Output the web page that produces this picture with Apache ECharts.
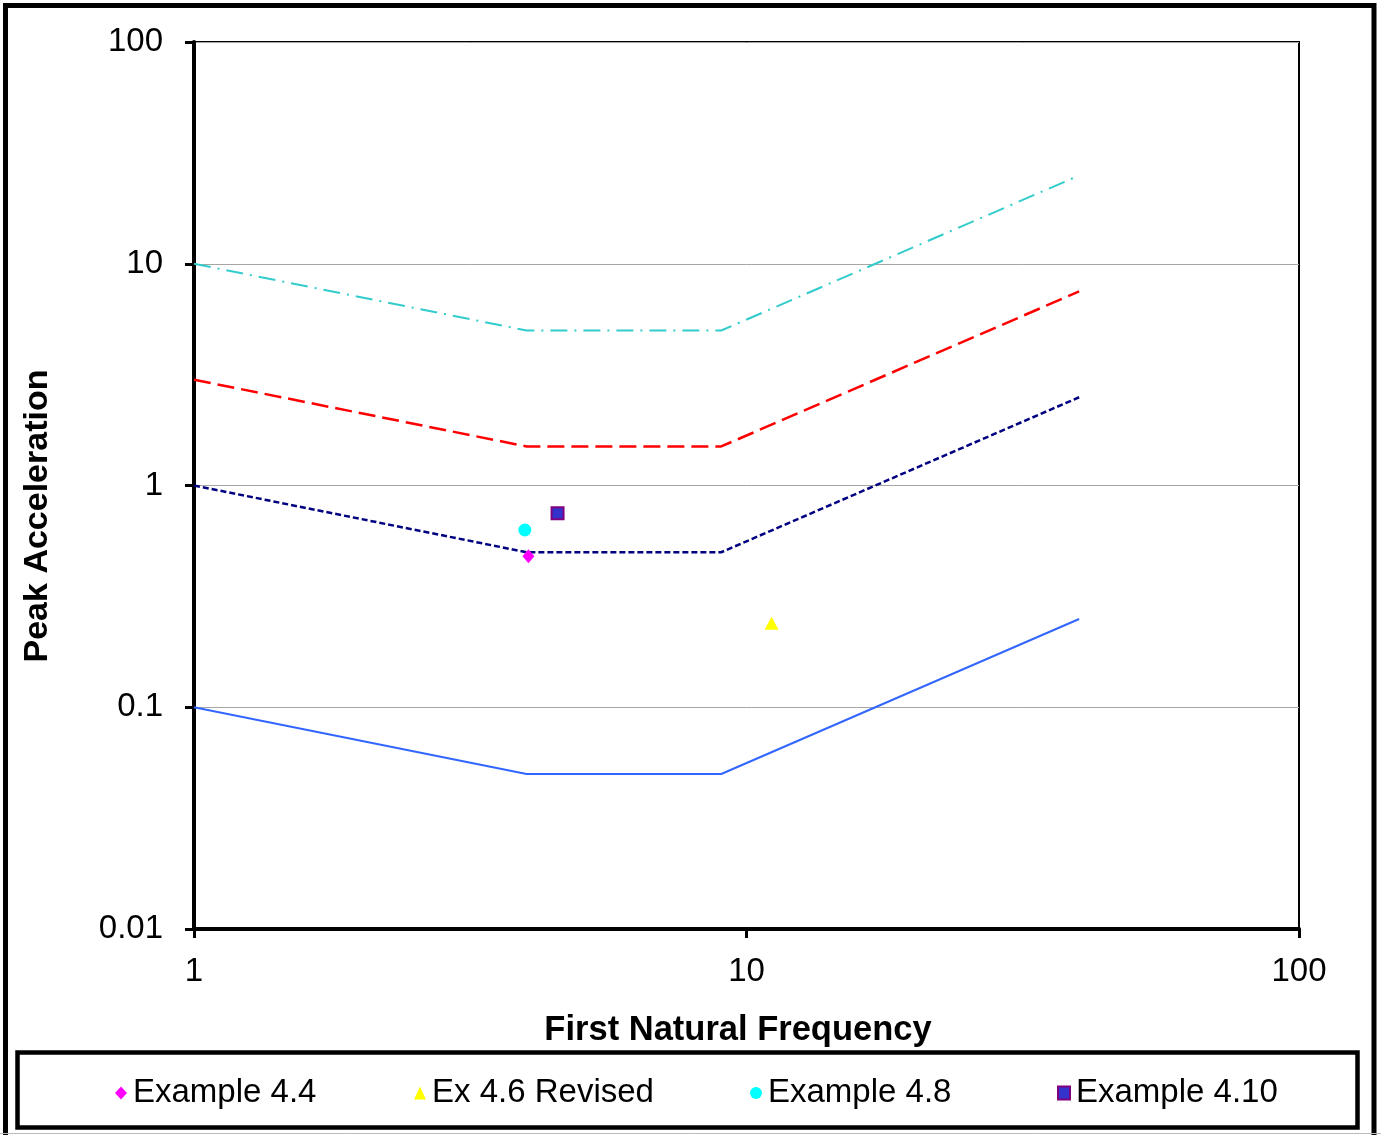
<!DOCTYPE html>
<html>
<head>
<meta charset="utf-8">
<style>
  html, body { margin: 0; padding: 0; background: #fff; }
  #chart { width: 1381px; height: 1135px; }
</style>
<script src="https://cdn.jsdelivr.net/npm/echarts@6/dist/echarts.min.js"></script>
</head>
<body>
<div id="chart"></div>
<script>
// Peak acceleration vs first natural frequency (log-log), limit curves + example points.
var FONT = "Liberation Sans, Arial, sans-serif";

var limitFreq = [1, 4, 9, 40];
var limitCyan = [10, 5, 5, 25];
var limitRed = [3, 1.5, 1.5, 7.5];
var limitNavy = [1, 0.5, 0.5, 2.5];
var limitBlue = [0.1, 0.05, 0.05, 0.25];

var pointNames = ["Example 4.4", "Ex 4.6 Revised", "Example 4.8", "Example 4.10"];
var pointFreq = [4.03, 11.1, 3.97, 4.55];
var pointAccel = [0.48, 0.239, 0.63, 0.75];

var yTicks = [0.01, 0.1, 1, 10, 100];
var xTicks = [1, 10, 100];

function pairs(xs, ys) {
  return xs.map(function (x, i) { return [x, ys[i]]; });
}

function limitLine(vals, color, width, type) {
  return {
    type: "line",
    data: pairs(limitFreq, vals),
    symbol: "none",
    silent: true,
    lineStyle: { color: color, width: width, type: type },
    z: 2
  };
}

var markerStyles = [
  { symbol: "diamond", size: [12, 14], color: "#ff00ff" },
  { symbol: "triangle", size: [14, 13], color: "#ffff00" },
  { symbol: "circle", size: 13, color: "#00ffff" },
  { symbol: "rect", size: 12, color: "#3333cc", border: "#800080" }
];

var pointSeries = pointNames.map(function (name, i) {
  var m = markerStyles[i];
  return {
    name: name,
    type: "scatter",
    data: [[pointFreq[i], pointAccel[i]]],
    symbol: m.symbol,
    symbolSize: m.size,
    itemStyle: {
      color: m.color,
      borderColor: m.border || m.color,
      borderWidth: m.border ? 2 : 0,
      opacity: 1
    },
    z: 5
  };
});

var legendLefts = [110, 409, 745, 1052];
var legends = pointNames.map(function (name, i) {
  return {
    data: [name],
    left: legendLefts[i],
    top: 1070,
    itemWidth: 12,
    itemHeight: 13,
    itemGap: 0,
    selectedMode: false,
    textStyle: { fontFamily: FONT, fontSize: 33, color: "#000", padding: [0, 0, 0, 1], lineHeight: 36 }
  };
});

var chart = echarts.init(document.getElementById("chart"), null, { renderer: "canvas" });
chart.setOption({
  backgroundColor: "#fff",
  animation: false,
  textStyle: { fontFamily: FONT },
  grid: {
    left: 194, right: 82, top: 42, bottom: 206,
    show: true, borderColor: "#000", borderWidth: 2, backgroundColor: "transparent"
  },
  xAxis: {
    type: "log",
    logBase: 10,
    min: xTicks[0],
    max: xTicks[xTicks.length - 1],
    axisLine: { show: true, onZero: false, lineStyle: { color: "#000", width: 4 } },
    axisTick: { show: true, length: 9, lineStyle: { color: "#000", width: 3 } },
    minorTick: { show: false },
    splitLine: { show: false },
    axisLabel: { color: "#000", fontSize: 33, fontFamily: FONT, margin: 26 }
  },
  yAxis: {
    type: "log",
    logBase: 10,
    min: yTicks[0],
    max: yTicks[yTicks.length - 1],
    axisLine: { show: true, onZero: false, lineStyle: { color: "#000", width: 4 } },
    axisTick: { show: true, length: 9, lineStyle: { color: "#000", width: 3 } },
    splitLine: { show: true, lineStyle: { color: "#a6a6a6", width: 1 } },
    axisLabel: {
      color: "#000", fontSize: 33, fontFamily: FONT, margin: 31,
      formatter: function (v) { return String(+v.toPrecision(6)); }
    }
  },
  legend: legends,
  series: [
    limitLine(limitCyan, "#33cccc", 2, [17, 7, 2, 7]),
    limitLine(limitRed, "#ff0000", 2.5, [17, 7]),
    limitLine(limitNavy, "#000080", 2.5, [6, 3]),
    limitLine(limitBlue, "#3366ff", 2, "solid")
  ].concat(pointSeries),
  graphic: [
    {
      type: "rect", z: 0, silent: true,
      shape: { x: 5.5, y: 5.5, width: 1368.5, height: 1160 },
      style: { fill: null, stroke: "#000", lineWidth: 5 }
    },
    {
      type: "line", z: 0, silent: true,
      shape: { x1: 0, y1: 1133.5, x2: 1381, y2: 1133.5 },
      style: { stroke: "#bbbbbb", lineWidth: 1 }
    },
    {
      type: "rect", z: 0, silent: true,
      shape: { x: 17.5, y: 1052.5, width: 1340, height: 75 },
      style: { fill: "#fff", stroke: "#000", lineWidth: 4.5 }
    },
    {
      type: "text", silent: true,
      x: 738, y: 1030,
      style: {
        text: "First Natural Frequency", fontFamily: FONT, fontSize: 34.5, fontWeight: "bold",
        fill: "#000", align: "center", verticalAlign: "middle"
      }
    },
    {
      type: "text", silent: true,
      x: 38, y: 516, rotation: Math.PI / 2,
      style: {
        text: "Peak Acceleration", fontFamily: FONT, fontSize: 34, fontWeight: "bold",
        fill: "#000", align: "center", verticalAlign: "middle"
      }
    }
  ]
});
</script>
</body>
</html>
